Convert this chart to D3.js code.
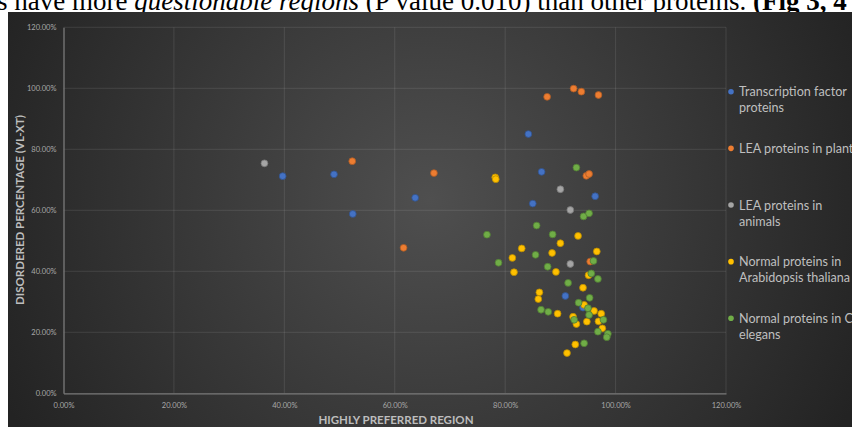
<!DOCTYPE html>
<html>
<head>
<meta charset="utf-8">
<script src="https://cdn.jsdelivr.net/npm/d3@7"></script>
<style>
  html, body { margin: 0; padding: 0; background: #fff; }
  svg { display: block; }
</style>
</head>
<body>
<svg id="chart" width="852" height="427"></svg>
<script>
// series values, in percent
var seriesNames = ["Transcription factor proteins", "LEA proteins in plants", "LEA proteins in animals", "Normal proteins in Arabidopsis thaliana", "Normal proteins in C. elegans"];
var legendLines = [["Transcription factor", "proteins"], ["LEA proteins in plants"], ["LEA proteins in", "animals"], ["Normal proteins in", "Arabidopsis thaliana"], ["Normal proteins in C.", "elegans"]];
var seriesColors = ["#4472c4", "#ed7d31", "#a5a5a5", "#ffc000", "#70ad47"];

var tfX = [39.7, 49.0, 52.4, 63.7, 84.2, 86.6, 85.0, 96.3, 90.9, 94.1];
var tfY = [71.2, 71.8, 58.8, 64.1, 85.0, 72.6, 62.2, 64.6, 31.9, 28.1];

var leaPlantX = [52.3, 61.6, 67.1, 87.6, 92.4, 93.8, 96.9, 94.7, 95.2, 95.4];
var leaPlantY = [76.1, 47.7, 72.2, 97.2, 99.9, 98.9, 97.8, 71.3, 71.9, 43.2];

var leaAnimalX = [36.4, 90.0, 91.8, 91.8];
var leaAnimalY = [75.4, 66.9, 60.1, 42.4];

var arabX = [78.2, 78.3, 83.0, 81.3, 88.5, 90.0, 93.2, 96.6, 81.6, 89.2, 95.1, 94.1, 86.2, 86.0, 89.5, 94.3, 96.1, 97.4, 92.3, 92.9, 94.8, 96.9, 97.6, 92.7, 91.2];
var arabY = [70.8, 70.2, 47.5, 44.4, 46.0, 49.2, 51.6, 46.5, 39.7, 39.8, 38.7, 34.6, 33.1, 30.9, 26.1, 29.0, 27.0, 26.1, 25.1, 22.7, 23.5, 23.6, 21.3, 16.0, 13.2];

var elegX = [92.9, 85.7, 76.7, 88.6, 85.5, 94.2, 95.2, 78.8, 87.7, 96.0, 95.6, 96.8, 91.4, 95.3, 86.5, 87.8, 93.3, 95.0, 95.2, 92.5, 97.8, 96.8, 98.6, 98.4, 94.3];
var elegY = [74.0, 55.0, 52.0, 52.1, 45.4, 58.0, 59.0, 42.8, 41.5, 43.4, 39.3, 37.5, 36.2, 31.3, 27.4, 26.7, 29.7, 27.9, 25.7, 24.1, 24.1, 20.2, 19.5, 18.4, 16.4];

var seriesX = [tfX, leaPlantX, leaAnimalX, arabX, elegX];
var seriesY = [tfY, leaPlantY, leaAnimalY, arabY, elegY];

var tickValues = [0, 20, 40, 60, 80, 100, 120];

var svg = d3.select("#chart");

// bit of the document text above the chart (cut at the top in the source too)
svg.append("text")
  .attr("x", -3).attr("y", 10)
  .attr("font-family", "'Liberation Serif', 'DejaVu Serif', serif")
  .attr("font-size", 27)
  .attr("fill", "#000")
  .call(function(t){
    t.append("tspan").text("s have more ");
    t.append("tspan").attr("font-style", "italic").text("questionable regions");
    t.append("tspan").text(" (P value 0.010) than other proteins.  ");
    t.append("tspan").attr("font-weight", "bold").text("(Fig 3, 4");
  });

var defs = svg.append("defs");
var grad = defs.append("radialGradient")
  .attr("id", "bg")
  .attr("gradientUnits", "userSpaceOnUse")
  .attr("cx", 430).attr("cy", 200).attr("r", 470);
grad.append("stop").attr("offset", 0).attr("stop-color", "#4f4f4f");
grad.append("stop").attr("offset", 1).attr("stop-color", "#232323");

svg.append("rect")
  .attr("x", 8).attr("y", 12)
  .attr("width", 852 - 8).attr("height", 427 - 12)
  .attr("fill", "url(#bg)");

var x = d3.scaleLinear().domain([0, 120]).range([63.5, 726]);
var y = d3.scaleLinear().domain([0, 120]).range([393.3, 27.3]);
var fmt = function(d){ return d.toFixed(2) + "%"; };

// gridlines
var grid = svg.append("g");
grid.selectAll(".gx").data(tickValues.slice(1)).enter().append("line")
  .attr("x1", function(d){ return x(d); }).attr("x2", function(d){ return x(d); })
  .attr("y1", y(0)).attr("y2", y(120))
  .attr("stroke", "#ffffff").attr("stroke-opacity", 0.1).attr("stroke-width", 1);
grid.selectAll(".gy").data(tickValues.slice(1)).enter().append("line")
  .attr("x1", x(0)).attr("x2", x(120))
  .attr("y1", function(d){ return y(d); }).attr("y2", function(d){ return y(d); })
  .attr("stroke", "#ffffff").attr("stroke-opacity", 0.1).attr("stroke-width", 1);

// axes
var xAxis = svg.append("g")
  .attr("transform", "translate(0," + y(0) + ")")
  .call(d3.axisBottom(x).tickValues(tickValues).tickFormat(fmt).tickSize(0).tickPadding(9));
var yAxis = svg.append("g")
  .attr("transform", "translate(" + x(0) + ",0)")
  .call(d3.axisLeft(y).tickValues(tickValues).tickFormat(fmt).tickSize(0).tickPadding(7));

[xAxis, yAxis].forEach(function(a){
  a.select(".domain").attr("stroke", "#7a7a7a").attr("stroke-width", 1.3);
  a.selectAll("text")
    .attr("fill", "#a8a8a8")
    .attr("font-family", "'Liberation Sans Narrow', 'Lato', sans-serif")
    .attr("font-size", 7.5);
});

// axis titles
svg.append("text")
  .attr("x", 396).attr("y", 424)
  .attr("text-anchor", "middle")
  .attr("font-family", "Lato, 'Open Sans', sans-serif")
  .attr("font-weight", "bold")
  .attr("font-size", 11.5)
  .attr("fill", "#bdbdbd")
  .text("HIGHLY PREFERRED REGION");

svg.append("text")
  .attr("transform", "translate(24,210) rotate(-90)")
  .attr("text-anchor", "middle")
  .attr("font-family", "Lato, 'Open Sans', sans-serif")
  .attr("font-weight", "bold")
  .attr("font-size", 11.5)
  .attr("fill", "#bdbdbd")
  .text("DISORDERED PERCENTAGE (VL-XT)");

// points
var pts = svg.append("g");
for (var s = 0; s < seriesNames.length; s++) {
  var data = seriesX[s].map(function(v, i){ return {x: v, y: seriesY[s][i]}; });
  var c = seriesColors[s];
  pts.append("g").selectAll("circle").data(data).enter().append("circle")
    .attr("cx", function(d){ return x(d.x); })
    .attr("cy", function(d){ return y(d.y); })
    .attr("r", 3.4)
    .attr("fill", c)
    .attr("stroke", d3.color(c).darker(0.9))
    .attr("stroke-width", 0.8);
}

// legend
var legend = svg.append("g");
var legY = d3.scaleLinear().domain([0, 4]).range([91.7, 318.3]);
legendLines.forEach(function(lines, i){
  legend.append("circle")
    .attr("cx", 731).attr("cy", legY(i)).attr("r", 2.8)
    .attr("fill", seriesColors[i]);
  var t = legend.append("text")
    .attr("font-family", "Lato, 'Open Sans', sans-serif")
    .attr("font-size", 12.6)
    .attr("fill", "#bfbfbf");
  lines.forEach(function(l, k){
    t.append("tspan").attr("x", 739).attr("y", legY(i) + 4.5 + k * 16).text(l);
  });
});
</script>
</body>
</html>
